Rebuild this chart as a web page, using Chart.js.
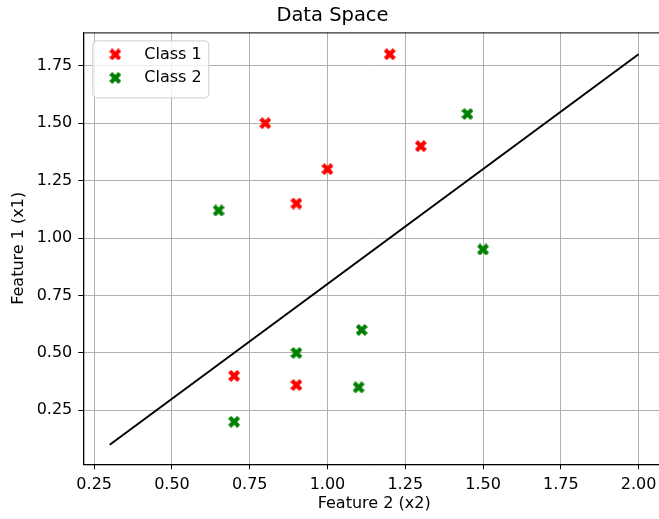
<!DOCTYPE html>
<html>
<head>
<meta charset="utf-8">
<script src="https://cdn.jsdelivr.net/npm/chart.js@4/dist/chart.umd.min.js"></script>
<style>
  html, body { margin: 0; padding: 0; overflow: hidden; background: #fff; }
  canvas { display: block; }
</style>
</head>
<body>
<canvas id="chart" width="670" height="519"></canvas>
<script>
// values
var class1X = [0.8, 1.2, 1.0, 1.3, 0.9, 0.7, 0.9];
var class1Y = [1.5, 1.8, 1.3, 1.4, 1.15, 0.4, 0.36];
var class2X = [0.65, 1.45, 1.5, 1.11, 0.9, 1.1, 0.7];
var class2Y = [1.12, 1.54, 0.95, 0.6, 0.5, 0.35, 0.2];
var boundaryX = [0.3, 2.0];
var boundaryY = [0.1, 1.8];
var xTicks = [0.25, 0.5, 0.75, 1.0, 1.25, 1.5, 1.75, 2.0];
var yTicks = [0.25, 0.5, 0.75, 1.0, 1.25, 1.5, 1.75];
var seriesNames = ['Class 1', 'Class 2'];

var FONT = 'DejaVu Sans';
var TEXT_SIZE = 16;

function toPoints(xs, ys) {
  return xs.map(function (x, i) { return { x: x, y: ys[i] }; });
}

// filled "X" marker like matplotlib's
function makeMarker(color) {
  var size = 12;
  var c = document.createElement('canvas');
  c.width = size;
  c.height = size;
  var g = c.getContext('2d');
  var path = [[0.25, 0], [0.5, 0.25], [0.75, 0], [1, 0.25], [0.75, 0.5], [1, 0.75],
    [0.75, 1], [0.5, 0.75], [0.25, 1], [0, 0.75], [0.25, 0.5], [0, 0.25]];
  g.fillStyle = color;
  g.beginPath();
  path.forEach(function (p, i) {
    var px = p[0] * size, py = p[1] * size;
    if (i === 0) g.moveTo(px, py); else g.lineTo(px, py);
  });
  g.closePath();
  g.fill();
  return c;
}

var redMarker = makeMarker('#ff0000');
var greenMarker = makeMarker('#008000');

var frameAndLegend = {
  id: 'frameAndLegend',
  afterDatasetsDraw: function (chart) {
    var ctx = chart.ctx;
    var a = chart.chartArea;
    ctx.save();
    ctx.strokeStyle = '#000';
    ctx.lineWidth = 1;
    ctx.strokeRect(a.left + 0.5, a.top + 0.5, a.right - a.left, a.bottom - a.top);

    var bx = a.left + 9, by = a.top + 8, bw = 116, bh = 57, r = 4;
    ctx.fillStyle = 'rgba(255,255,255,0.8)';
    ctx.strokeStyle = '#cccccc';
    ctx.beginPath();
    ctx.roundRect(bx + 0.5, by + 0.5, bw, bh, r);
    ctx.fill();
    ctx.stroke();

    var markers = [redMarker, greenMarker];
    ctx.font = TEXT_SIZE + 'px "' + FONT + '"';
    ctx.fillStyle = '#000';
    ctx.textBaseline = 'middle';
    ctx.textAlign = 'left';
    seriesNames.forEach(function (name, i) {
      var cy = by + 14 + i * 23.5;
      ctx.drawImage(markers[i], bx + 23 - 6, cy - 6);
      ctx.fillText(name, bx + 52, cy);
    });
    ctx.restore();
  }
};

function tickLabel(value) {
  return Number(value).toFixed(2);
}

new Chart(document.getElementById('chart'), {
  type: 'scatter',
  data: {
    datasets: [
      {
        label: seriesNames[0],
        data: toPoints(class1X, class1Y),
        pointStyle: redMarker,
        backgroundColor: '#ff0000'
      },
      {
        label: seriesNames[1],
        data: toPoints(class2X, class2Y),
        pointStyle: greenMarker,
        backgroundColor: '#008000'
      },
      {
        type: 'line',
        label: 'boundary',
        data: toPoints(boundaryX, boundaryY),
        borderColor: '#000',
        borderWidth: 2,
        pointRadius: 0,
        fill: false,
        tension: 0
      }
    ]
  },
  options: {
    responsive: false,
    animation: false,
    layout: { padding: { left: 0, right: 5, top: 0, bottom: 0 } },
    plugins: {
      legend: { display: false },
      tooltip: { enabled: false },
      title: {
        display: true,
        text: 'Data Space',
        color: '#000',
        font: { family: FONT, size: 19.5, weight: 'normal' },
        padding: { top: 4.5, bottom: 4.5 }
      }
    },
    scales: {
      x: {
        type: 'linear',
        min: 0.215,
        max: 2.085,
        afterFit: function (scale) { scale.height = 54.7; },
        afterBuildTicks: function (scale) {
          scale.ticks = xTicks.map(function (v) { return { value: v }; });
        },
        ticks: {
          color: '#000',
          font: { family: FONT, size: TEXT_SIZE },
          padding: 6,
          maxRotation: 0,
          callback: tickLabel
        },
        grid: { color: '#b0b0b0', lineWidth: 1, tickColor: '#000', tickLength: 5 },
        border: { display: true, color: '#000', width: 1 },
        title: {
          display: true,
          text: 'Feature 2 (x2)',
          color: '#000',
          font: { family: FONT, size: TEXT_SIZE },
          padding: { top: 0, bottom: 5.5 }
        }
      },
      y: {
        type: 'linear',
        min: 0.015,
        max: 1.895,
        afterFit: function (scale) { scale.width = 83.3; },
        afterBuildTicks: function (scale) {
          scale.ticks = yTicks.map(function (v) { return { value: v }; });
        },
        ticks: {
          color: '#000',
          font: { family: FONT, size: TEXT_SIZE },
          padding: 6,
          callback: tickLabel
        },
        grid: { color: '#b0b0b0', lineWidth: 1, tickColor: '#000', tickLength: 5 },
        border: { display: true, color: '#000', width: 1 },
        title: {
          display: true,
          text: 'Feature 1 (x1)',
          color: '#000',
          font: { family: FONT, size: TEXT_SIZE },
          padding: { top: 9, bottom: 0 }
        }
      }
    }
  },
  plugins: [frameAndLegend]
});
</script>
</body>
</html>
